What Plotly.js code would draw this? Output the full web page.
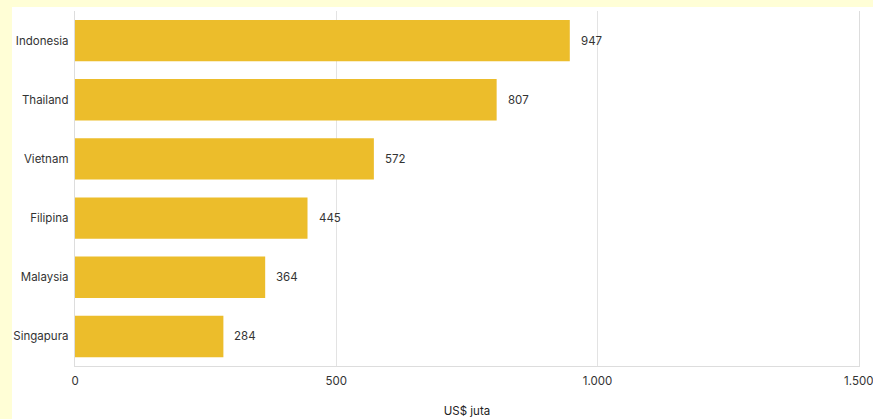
<!DOCTYPE html>
<html>
<head>
<meta charset="utf-8">
<script src="https://cdn.plot.ly/plotly-3.0.1.min.js"></script>
<style>
html,body{margin:0;padding:0;width:873px;height:419px;overflow:hidden;background:#FFFED6;}
#chart{position:absolute;left:12px;top:7px;width:861px;height:412px;background:#fff;}
</style>
</head>
<body>
<div id="chart"></div>
<script>
const countries = ["Indonesia","Thailand","Vietnam","Filipina","Malaysia","Singapura"];
const values = [947, 807, 572, 445, 364, 284];
const tickValues = [0, 500, 1000, 1500];
const tickLabels = ["0", "500", "1.000", "1.500"];
const axisTitle = "US$ juta";

const trace = {
  type: "bar",
  orientation: "h",
  y: countries,
  x: values,
  marker: {color: "#ECBD2B"},
  hoverinfo: "none"
};

const annotations = countries.map((c, i) => ({
  x: values[i], y: c, xref: "x", yref: "y",
  text: String(values[i]),
  showarrow: false,
  xanchor: "left",
  xshift: 9,
  font: {size: 11.5, color: "#333"}
}));

const layout = {
  width: 861, height: 412,
  margin: {l: 63, r: 14, t: 4, b: 53},
  paper_bgcolor: "#ffffff",
  plot_bgcolor: "#ffffff",
  font: {family: "Inter, 'Liberation Sans', sans-serif", size: 11.5, color: "#333"},
  bargap: 0.3,
  showlegend: false,
  annotations: annotations,
  xaxis: {
    range: [0, 1500.5],
    tickvals: tickValues,
    ticktext: tickLabels,
    showgrid: true,
    gridcolor: "#e3e3e3",
    zeroline: false,
    showline: true,
    linecolor: "#dddddd",
    ticks: "",
    ticklabelstandoff: 4,
    ticklabeloverflow: "allow",
    tickfont: {size: 11.5, color: "#333"},
    title: {text: axisTitle, font: {size: 11.5, color: "#222"}, standoff: 20}
  },
  yaxis: {
    type: "category",
    categoryorder: "array",
    categoryarray: countries,
    autorange: "reversed",
    showgrid: false,
    zeroline: false,
    showline: true,
    mirror: true,
    linecolor: "#dddddd",
    ticks: "",
    ticksuffix: " ",
    tickfont: {size: 11.5, color: "#333"}
  }
};

Plotly.newPlot("chart", [trace], layout, {displayModeBar: false, staticPlot: true});
</script>
</body>
</html>
